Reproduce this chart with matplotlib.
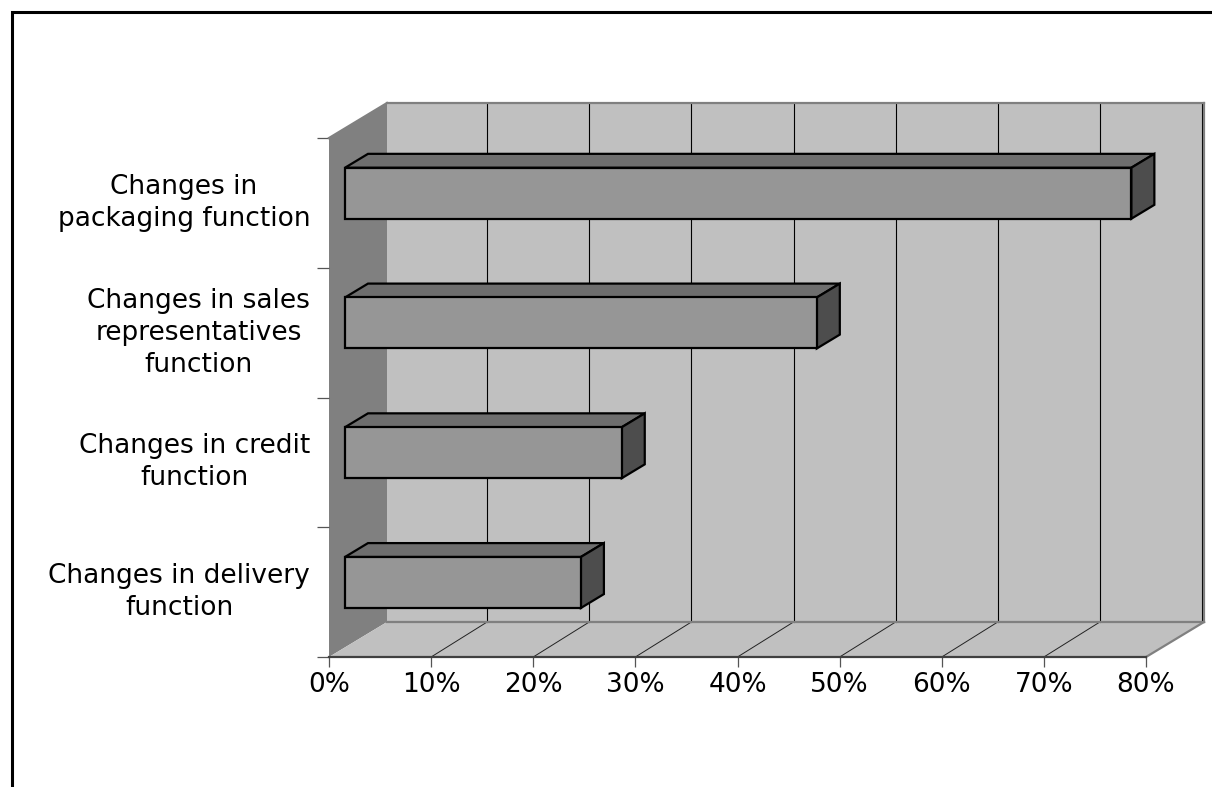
import matplotlib
matplotlib.use("Agg")
import matplotlib.pyplot as plt
from matplotlib.lines import Line2D
from matplotlib.patches import Polygon
from matplotlib.transforms import ScaledTranslation

W, H = 1212, 787

# bottom to top, same as the axis runs
categories = ["Changes in delivery\nfunction",
              "Changes in credit\nfunction",
              "Changes in sales\nrepresentatives\nfunction",
              "Changes in\npackaging function"]
values = [23.1, 27.1, 46.2, 77.0]
x_ticks = [0, 10, 20, 30, 40, 50, 60, 70, 80]
x_labels = ["0%", "10%", "20%", "30%", "40%", "50%", "60%", "70%", "80%"]

plt.rcParams["font.family"] = ["DejaVu Sans"]

fig = plt.figure(figsize=(W / 100, H / 100), dpi=100)
ax = fig.add_axes([329 / W, 1 - 657 / H, 817 / W, 519 / H])
ax.set_xlim(0, 80)
ax.set_ylim(0, 4)
ax.patch.set_visible(False)
for s in ax.spines.values():
    s.set_visible(False)

# fake 3d: depth 1 is the back wall
DX = 58 / (817 / 80)
DY = 35 / (519 / 4)
GRID_D = 56 / 58  # grid sits a little in front of the wall edge in x


def pr(x, y, d):
    return (x + d * DX, y + d * DY)


def face(pts, color, z, ec="none", lw=0):
    ax.add_patch(Polygon(pts, closed=True, fc=color, ec=ec, lw=lw, zorder=z,
                         clip_on=False, joinstyle="miter"))


# walls and floor
face([pr(0, 0, 0), pr(0, 0, 1), pr(0, 4, 1), pr(0, 4, 0)], "#808080", 1)
face([pr(0, 0, 1), pr(80, 0, 1), pr(80, 4, 1), pr(0, 4, 1)], "#c0c0c0", 1)
face([pr(0, 0, 0), pr(80, 0, 0), pr(80, 0, 1), pr(0, 0, 1)], "#c0c0c0", 1)

for t in x_ticks[1:]:
    gx = t + GRID_D * DX
    ax.plot([gx, gx], [DY, 4 + DY], color="black", lw=0.8, zorder=2, clip_on=False)
    if t < 80:
        ax.plot([t, gx], [0, DY], color="#222222", lw=0.7, zorder=2, clip_on=False)

edges = [(pr(0, 0, 1), pr(80, 0, 1)), (pr(0, 4, 1), pr(80, 4, 1)),
         (pr(80, 0, 1), pr(80, 4, 1)), (pr(80, 0, 0), pr(80, 0, 1)),
         (pr(0, 4, 0), pr(0, 4, 1))]
for a, b in edges:
    ax.plot([a[0], b[0]], [a[1], b[1]], color="#808080", lw=1.6, zorder=3,
            clip_on=False, solid_capstyle="projecting")
ax.plot([0, 80], [0, 0], color="#404040", lw=1.6, zorder=3, clip_on=False)

# bars
D0, D1 = 16 / 58, 39 / 58
BH = 51 / (519 / 4)
for i, v in enumerate(values):
    lo = i + 0.5 - BH / 2
    hi = i + 0.5 + BH / 2
    face([pr(0, hi, D0), pr(v, hi, D0), pr(v, hi, D1), pr(0, hi, D1)],
         "#6e6e6e", 5, "black", 1.6)
    face([pr(v, lo, D0), pr(v, lo, D1), pr(v, hi, D1), pr(v, hi, D0)],
         "#4d4d4d", 5, "black", 1.6)
    face([pr(0, lo, D0), pr(v, lo, D0), pr(v, hi, D0), pr(0, hi, D0)],
         "#969696", 6, "black", 1.6)

ax.set_xticks(x_ticks)
ax.set_xticklabels(x_labels, fontsize=19, color="black")
ax.tick_params(axis="x", length=7.2, width=0.9, color="#555555", pad=3.5)

ax.set_yticks(range(5))
ax.set_yticklabels([])
ax.tick_params(axis="y", which="major", length=8.5, width=0.9, color="#555555")
ax.set_yticks([i + 0.5 for i in range(4)], minor=True)
ax.set_yticklabels(categories, minor=True, fontsize=19, ma="center",
                   linespacing=1.3)
ax.tick_params(axis="y", which="minor", length=0, pad=13.5)
# labels sit a few pixels above the category centre
up = ScaledTranslation(0, 6 / 100, fig.dpi_scale_trans)
for lbl in ax.get_yticklabels(minor=True):
    lbl.set_transform(lbl.get_transform() + up)

# page frame, runs off the right and bottom edge
fig.add_artist(Line2D([11.5 / W, 11.5 / W, 1], [0, 1 - 12 / H, 1 - 12 / H],
                      color="black", lw=2.2, transform=fig.transFigure,
                      solid_joinstyle="miter"))

fig.savefig("out.png", dpi=100)
